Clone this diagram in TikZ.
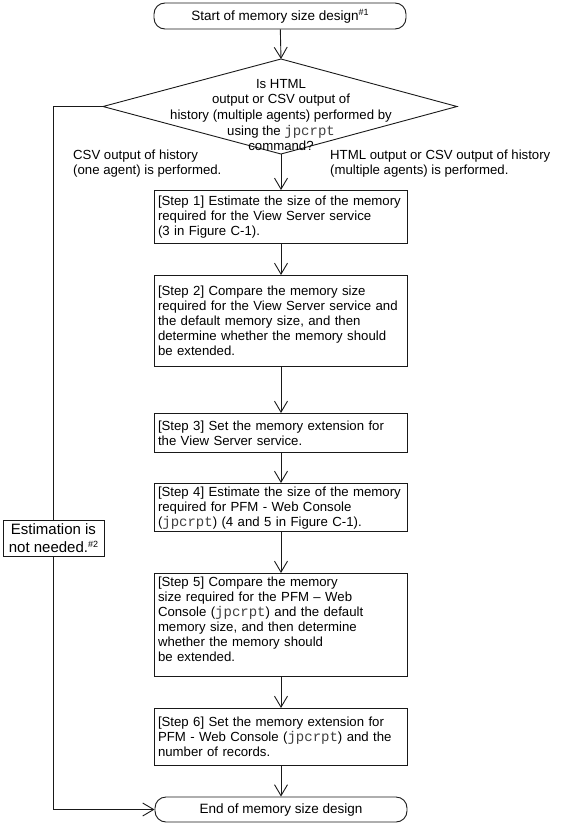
\documentclass[tikz,border=0pt]{standalone}
\usepackage{fontspec}
\setmainfont{Liberation Sans}
\setmonofont{Liberation Mono}
\usetikzlibrary{arrows.meta}
\newcommand\cmdtxt[1]{{\color{black!75}\fontsize{14}{15}\ttfamily #1}}
\newcommand\supnote[1]{\raisebox{5pt}{\fontsize{9}{9}\selectfont\##1}}
\hyphenpenalty=10000
\exhyphenpenalty=10000
\begin{document}
\begin{tikzpicture}[x=1pt,y=-1pt,
  every node/.style={font=\fontsize{13.2}{15}\selectfont},
  ln/.style={line width=0.9pt, draw=black!90},
  stepbox/.style={ln, draw, anchor=north, text width=246pt, inner xsep=3.5pt, inner ysep=3pt, align=left},
  term/.style={ln, draw, rounded corners=11pt, minimum width=252pt, inner sep=0pt, font=\fontsize{13.5}{15}\selectfont},
  flow/.style={ln, -{Straight Barb[length=11pt,width=13pt,line width=0.9pt]}},
  lbl/.style={anchor=base west, align=left, inner sep=0pt}
]
\useasboundingbox (0,0) rectangle (575,825);
% terminals
\node[term, minimum height=26pt] (start) at (280,16) {Start of memory size design\supnote{1}};
\node[term, minimum height=25pt] (end) at (281,809.5) {End of memory size design};
% decision
\coordinate (dtop) at (281,59);
\coordinate (dbot) at (281,154);
\coordinate (dleft) at (103,106.5);
\coordinate (dright) at (457,106.5);
\draw[ln] (dtop) -- (dright) -- (dbot) -- (dleft) -- cycle;
\node[align=center, font=\fontsize{13.2}{15.6}\selectfont] (dtext) at (281,115)
  {Is HTML\\output or CSV output of\\history (multiple agents) performed by\\using the \cmdtxt{jpcrpt}\\command?};
% branch labels
\node[lbl] (lleft) at (73,174) {CSV output of history\\(one agent) is performed.};
\node[lbl] (lright) at (330,174) {HTML output or CSV output of history\\(multiple agents) is performed.};
% steps
\node[stepbox, minimum height=53pt] (s1) at (281,190)
  {[Step 1] Estimate the size of the memory\\required for the View Server service\\(3 in Figure C-1).};
\node[stepbox, minimum height=91pt] (s2) at (281,275)
  {[Step 2] Compare the memory size\\required for the View Server service and\\the default memory size, and then\\determine whether the memory should\\be extended.};
\node[stepbox, minimum height=39pt] (s3) at (281,413)
  {[Step 3] Set the memory extension for\\the View Server service.};
\node[stepbox, minimum height=44pt] (s4) at (281,483)
  {[Step 4] Estimate the size of the memory\\required for PFM - Web Console\\(\cmdtxt{jpcrpt}) (4 and 5 in Figure C-1).};
\node[stepbox, minimum height=101pt] (s5) at (281,573)
  {[Step 5] Compare the memory\\size required for the PFM -- Web\\Console (\cmdtxt{jpcrpt}) and the default\\memory size, and then determine\\whether the memory should\\be extended.\rule[-12pt]{0pt}{0pt}};
\node[stepbox, minimum height=57pt] (s6) at (281,708)
  {[Step 6] Set the memory extension for\\PFM - Web Console (\cmdtxt{jpcrpt}) and the\\number of records.};
% connectors
\draw[flow] (start) -- (dtop);
\draw[flow] (dbot) -- (s1);
\draw[flow] (s1) -- (s2);
\draw[flow] (s2) -- (s3);
\draw[flow] (s3) -- (s4);
\draw[flow] (s4) -- (s5);
\draw[flow] (s5) -- (s6);
\draw[flow] (s6) -- (end);
\coordinate (lc) at (53,809.5);
\draw[flow] (dleft) -| (lc) -- (end);
\node[ln, draw, fill=white, minimum width=101pt, minimum height=36pt, inner sep=1pt, align=center,
  font=\fontsize{15}{17.5}\selectfont] (est) at (53.5,538) {Estimation is\\not needed.\supnote{2}};
\end{tikzpicture}
\end{document}
